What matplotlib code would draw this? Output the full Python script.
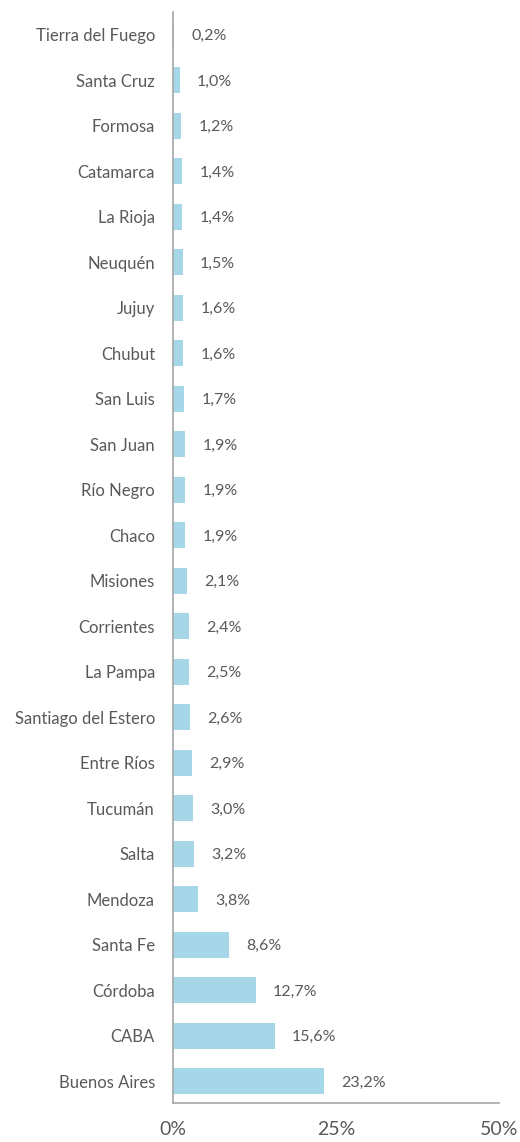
import matplotlib
matplotlib.use("Agg")
import matplotlib.pyplot as plt
from matplotlib.ticker import FixedLocator

provinces = ["Buenos Aires", "CABA", "Córdoba", "Santa Fe", "Mendoza", "Salta", "Tucumán",
             "Entre Ríos", "Santiago del Estero", "La Pampa", "Corrientes", "Misiones",
             "Chaco", "Río Negro", "San Juan", "San Luis", "Chubut", "Jujuy", "Neuquén",
             "La Rioja", "Catamarca", "Formosa", "Santa Cruz", "Tierra del Fuego"]
shares = [23.2, 15.6, 12.7, 8.6, 3.8, 3.2, 3.0, 2.9, 2.6, 2.5, 2.4, 2.1,
          1.9, 1.9, 1.9, 1.7, 1.6, 1.6, 1.5, 1.4, 1.4, 1.2, 1.0, 0.2]
xticks = [0, 25, 50]
xticklabels = ["0%", "25%", "50%"]

plt.rcParams['font.family'] = ['Lato', 'DejaVu Sans']
text_color = "#595959"
spine_color = "#a6a6a6"
bar_color = "#a6d7e8"

fig = plt.figure(figsize=(5.2, 11.42), dpi=100)
ax = fig.add_axes([0.3327, 0.0342, 0.9596 - 0.3327, 0.9895 - 0.0342])

y = list(range(len(provinces)))
ax.barh(y, shares, height=0.57, color=bar_color)
for yi, v in zip(y, shares):
    ax.annotate(f"{v:.1f}%".replace(".", ","), xy=(v, yi), xytext=(12.5, -1),
                textcoords="offset points", va="center", ha="left",
                fontsize=11.5, color=text_color)

ax.set_xlim(0, 50)
ax.set_ylim(-0.48, 23.5)
ax.set_yticks(y)
ax.set_yticklabels(provinces, fontsize=12, color=text_color)
ax.xaxis.set_major_locator(FixedLocator(xticks))
ax.set_xticklabels(xticklabels, fontsize=14, color=text_color)
ax.tick_params(axis="y", length=0, pad=13)
ax.tick_params(axis="x", length=0, pad=13)
for lbl in ax.get_yticklabels():
    lbl.set_y(lbl.get_position()[1])
for s in ["top", "right"]:
    ax.spines[s].set_visible(False)
for s in ["left", "bottom"]:
    ax.spines[s].set_color(spine_color)
    ax.spines[s].set_linewidth(1.2)

fig.savefig("out.png", dpi=100)
